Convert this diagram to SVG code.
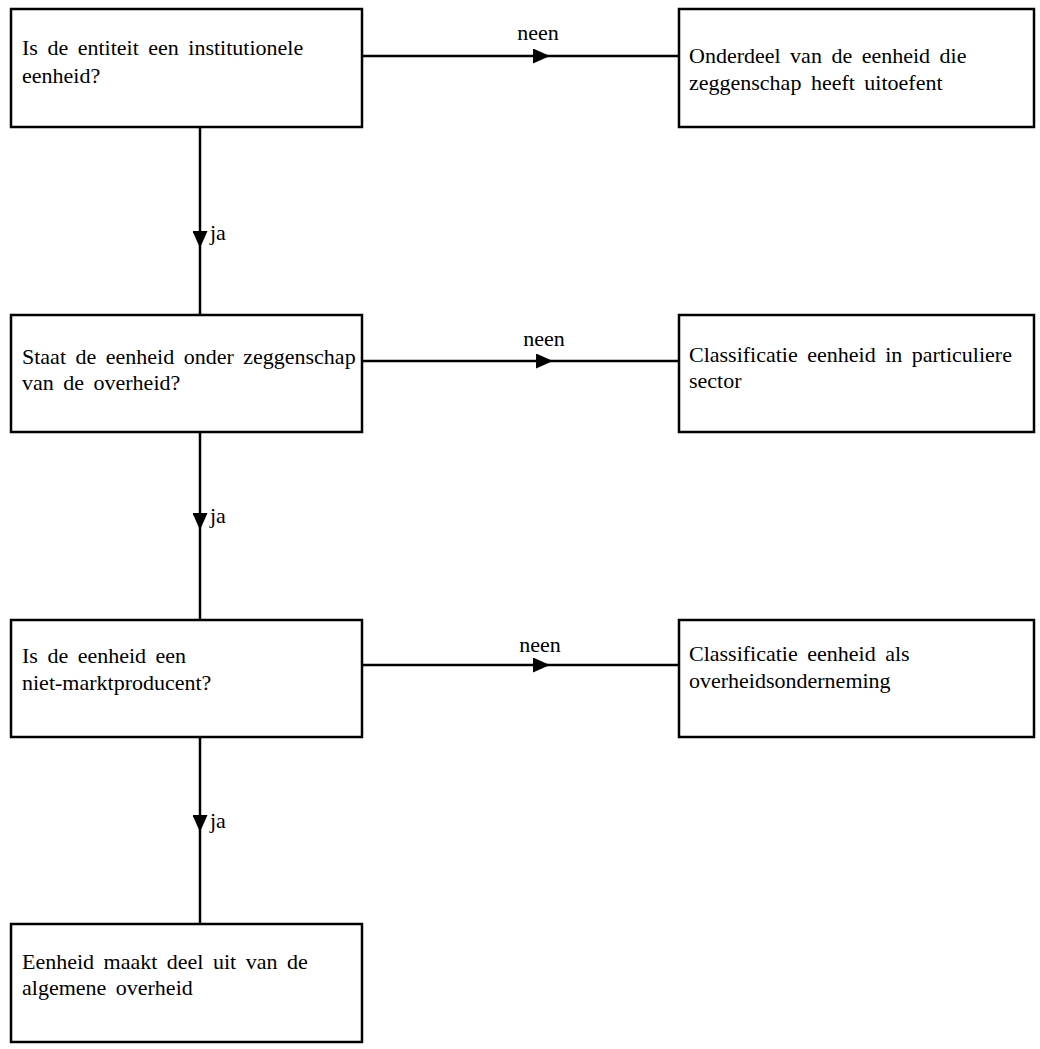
<svg xmlns="http://www.w3.org/2000/svg" width="1040" height="1049" viewBox="0 0 1040 1049">
<defs>
<style>
.box{fill:#fff;stroke:#000;stroke-width:2.5}
.t{font-family:"Liberation Serif","Times New Roman",serif;font-size:22px;fill:#000;word-spacing:4px}
.lbl{font-family:"Liberation Serif","Times New Roman",serif;font-size:22px;fill:#000}
.ln{fill:none;stroke:#000;stroke-width:2.5}
</style>
<marker id="ah" markerWidth="17" markerHeight="15" refX="17" refY="7.5" orient="auto" markerUnits="userSpaceOnUse">
<path d="M0,0 L17,7.5 L0,15 Z" fill="#000"/>
</marker>
</defs>
<rect width="1040" height="1049" fill="#fff"/>
<g id="connectors">
<path class="ln" d="M362,56 L550,56 L679,56" marker-mid="url(#ah)"/>
<path class="ln" d="M362,361 L553,361 L679,361" marker-mid="url(#ah)"/>
<path class="ln" d="M362,665 L550,665 L679,665" marker-mid="url(#ah)"/>
<path class="ln" d="M200,127 L200,248 L200,315" marker-mid="url(#ah)"/>
<path class="ln" d="M200,432 L200,530 L200,620" marker-mid="url(#ah)"/>
<path class="ln" d="M200,737 L200,832 L200,924" marker-mid="url(#ah)"/>
<text class="lbl" x="538" y="40" text-anchor="middle">neen</text>
<text class="lbl" x="544" y="346" text-anchor="middle">neen</text>
<text class="lbl" x="540" y="652" text-anchor="middle">neen</text>
<text class="lbl" x="210" y="240">ja</text>
<text class="lbl" x="210" y="523">ja</text>
<text class="lbl" x="210" y="828">ja</text>
</g>
<g id="q1">
<rect class="box" x="11" y="9" width="351" height="118"/>
<text class="t" x="22" y="55">Is de entiteit een institutionele</text>
<text class="t" x="22" y="83">eenheid?</text>
</g>
<g id="r1">
<rect class="box" x="679" y="9" width="355" height="118"/>
<text class="t" x="689" y="63">Onderdeel van de eenheid die</text>
<text class="t" x="689" y="90">zeggenschap heeft uitoefent</text>
</g>
<g id="q2">
<rect class="box" x="11" y="315" width="351" height="117"/>
<text class="t" x="22" y="364">Staat de eenheid onder zeggenschap</text>
<text class="t" x="22" y="390">van de overheid?</text>
</g>
<g id="r2">
<rect class="box" x="679" y="315" width="355" height="117"/>
<text class="t" x="689" y="362">Classificatie eenheid in particuliere</text>
<text class="t" x="689" y="388">sector</text>
</g>
<g id="q3">
<rect class="box" x="11" y="620" width="351" height="117"/>
<text class="t" x="22" y="663">Is de eenheid een</text>
<text class="t" x="22" y="690">niet-marktproducent?</text>
</g>
<g id="r3">
<rect class="box" x="679" y="620" width="355" height="117"/>
<text class="t" x="689" y="661">Classificatie eenheid als</text>
<text class="t" x="689" y="688">overheidsonderneming</text>
</g>
<g id="end">
<rect class="box" x="11" y="924" width="351" height="118"/>
<text class="t" x="22" y="969">Eenheid maakt deel uit van de</text>
<text class="t" x="22" y="995">algemene overheid</text>
</g>
</svg>
